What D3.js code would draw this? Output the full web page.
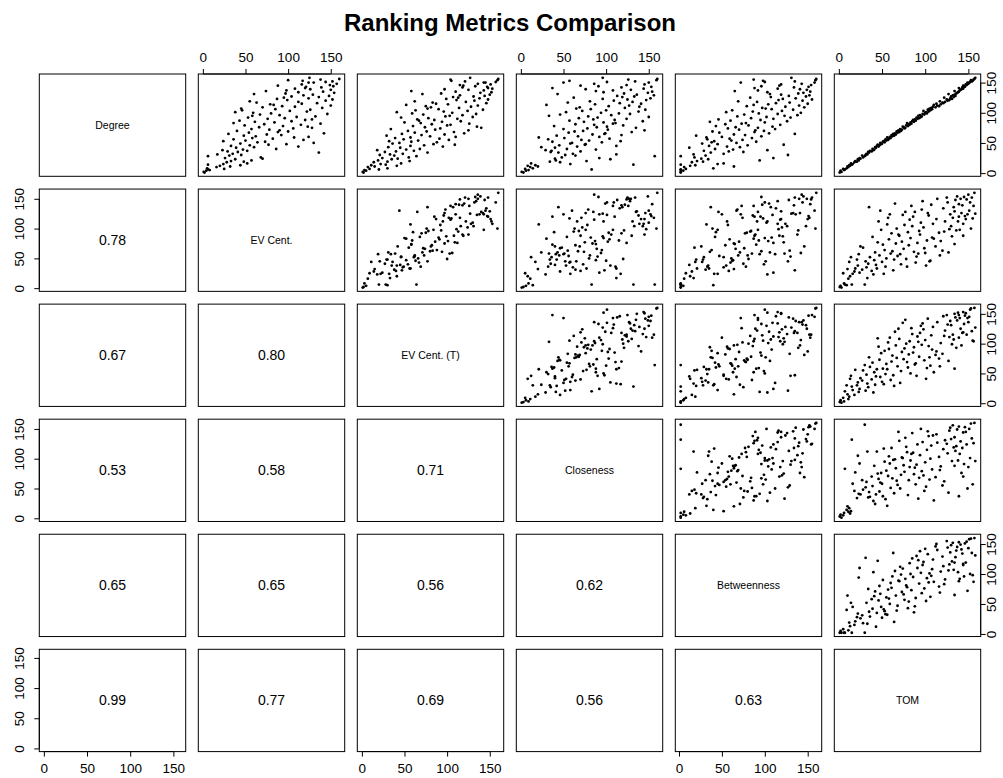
<!DOCTYPE html>
<html>
<head>
<meta charset="utf-8">
<script src="https://cdn.jsdelivr.net/npm/d3@7"></script>
<style>
  body { margin: 0; background: #fff; }
  svg { display: block; }
  text { font-family: "Liberation Sans", Arial, Helvetica, sans-serif; }
</style>
</head>
<body>
<svg id="chart" width="1003" height="778"></svg>
<script>
// Rank of each node under six centrality measures (one entry per node, same order in every array)
const degree = [
  1,2,4,5,6,7,8,10,11,12,
  13,14,15,16,18,19,20,21,23,24,
  25,26,28,29,30,31,32,34,35,36,
  37,38,39,40,42,43,44,45,46,48,
  49,50,51,52,54,55,56,57,58,60,
  61,62,63,64,66,67,68,69,70,72,
  73,74,75,76,78,79,80,81,82,84,
  85,86,87,88,90,91,92,93,94,96,
  97,98,99,100,102,103,104,105,106,108,
  109,110,111,112,114,115,116,117,118,120,
  121,122,123,124,126,127,128,129,130,132,
  133,134,135,137,138,139,140,142,143,144,
  146,147,148,150,151,152,154,155,156,158,
  141,150,153,145,136,131,125,119,113,107,
  101,95,89,83,77,71,65,59,53,47
];
const evCent = [
  2,1,4,8,6,25,5,16,32,20,
  44,6,24,52,28,48,33,57,38,70,
  26,68,6,31,45,17,35,136,41,29,
  52,23,47,86,39,60,112,33,55,98,
  44,130,64,73,50,118,36,82,58,124,
  62,48,92,75,142,54,88,100,40,78,
  57,106,128,66,94,49,115,72,138,84,
  61,104,43,120,76,96,53,110,132,90,
  67,146,80,59,122,102,46,126,85,140,
  70,108,93,150,79,116,134,63,112,144,
  99,152,87,124,136,104,148,118,129,97,
  154,112,141,98,150,126,108,139,121,153,
  149,116,157,130,144,152,100,138,160,125,
  120,124,117,88,74,60,95,55,83,45,
  38,58,128,36,123,90,30,107,24,77
];
const evCentT = [
  2,1,5,3,20,9,30,7,15,41,
  11,28,22,46,14,30,56,19,35,42,
  24,55,64,38,21,33,48,77,27,40,
  61,18,52,68,45,31,95,57,73,84,
  36,44,88,58,66,102,49,91,39,110,
  80,29,70,97,120,62,108,76,54,86,
  34,92,140,74,60,100,104,82,126,50,
  94,116,67,85,112,78,46,130,98,118,
  72,134,59,106,96,124,63,142,90,114,
  81,128,75,136,101,87,146,83,122,132,
  111,148,99,138,107,131,144,115,150,93,
  139,152,110,143,125,97,153,118,147,133,
  115,151,136,145,157,121,159,104,160,127,
  148,143,105,119,58,71,113,62,52,77,
  41,103,65,69,135,125,47,57,32,109
];
const closeness = [
  3,1,6,9,83,5,14,11,20,8,
  17,132,58,12,46,34,77,41,105,40,
  92,48,157,64,52,112,61,44,35,70,
  36,29,88,54,40,24,66,112,45,76,
  58,60,95,37,80,71,32,104,51,92,
  67,42,118,84,99,56,130,63,73,102,
  50,78,135,89,39,120,86,64,108,97,
  74,143,57,110,124,68,90,150,79,106,
  46,128,115,94,138,72,100,146,82,122,
  69,139,103,127,87,141,116,55,131,109,
  147,125,96,152,119,133,113,156,136,121,
  149,97,154,108,129,76,144,118,153,91,
  124,145,86,150,101,134,159,126,160,96,
  37,50,57,70,88,43,62,81,30,65,
  53,33,85,111,101,145,98,21,117,75
];
const betweenness = [
  2,2,5,2,2,8,40,6,64,13,
  19,2,45,52,15,28,21,94,34,26,
  110,18,2,31,127,17,52,37,75,58,
  29,103,63,42,12,71,56,35,80,45,
  27,67,38,90,61,74,33,59,85,50,
  96,20,77,64,105,47,88,39,99,70,
  112,57,92,66,43,81,118,54,73,100,
  36,126,60,95,110,84,130,102,68,138,
  76,115,93,142,86,120,62,133,108,97,
  146,124,79,140,104,150,113,129,91,144,
  116,155,121,136,107,148,128,152,119,139,
  145,103,153,92,149,141,115,134,151,96,
  154,119,143,158,100,135,159,87,160,131,
  88,72,98,117,65,106,83,69,87,101,
  55,123,46,78,109,89,135,32,41,122
];
const tom = [
  1,3,2,6,7,5,9,11,10,13,
  12,15,16,14,18,21,19,23,22,25,
  24,28,30,27,31,33,32,35,34,38,
  36,40,41,39,43,42,46,44,47,49,
  50,48,53,51,55,57,54,58,60,59,
  62,64,61,66,65,68,70,67,72,73,
  71,76,77,75,80,78,82,81,84,83,
  87,85,89,86,91,93,90,95,96,94,
  99,97,102,100,104,98,106,103,108,107,
  112,109,116,114,118,113,121,120,123,126,
  128,125,131,129,133,130,135,132,134,136,
  137,138,139,140,141,142,144,143,146,145,
  148,147,150,151,152,154,153,156,157,158,
  139,149,155,144,134,127,122,117,110,105,
  101,92,88,79,74,69,63,56,52,45
];

const metricNames = ["Degree", "EV Cent.", "EV Cent. (T)", "Closeness", "Betweenness", "TOM"];
// Correlation shown in the lower triangle, row by row (row i holds columns 0..i-1)
const correlations = [
  [0.78],
  [0.67, 0.80],
  [0.53, 0.58, 0.71],
  [0.65, 0.65, 0.56, 0.62],
  [0.99, 0.77, 0.69, 0.56, 0.63]
];
const tickValues = [0, 50, 100, 150];

const series = [degree, evCent, evCentT, closeness, betweenness, tom];
const nVars = series.length;
const nodeIndex = d3.range(degree.length);

// grid geometry
const gridLeft = 39.3, gridTop = 74;
const colStep = 159, rowStep = 115.06;
const panelW = 146.4, panelH = 102.3;

const svg = d3.select("#chart");

svg.append("text")
  .attr("x", 510).attr("y", 30.5)
  .attr("text-anchor", "middle")
  .attr("font-weight", "bold")
  .attr("font-size", 24)
  .text("Ranking Metrics Comparison");

// axis limits: data range widened by 4% on each side
const padded = v => {
  const [lo, hi] = d3.extent(v);
  const pad = (hi - lo) * 0.04;
  return [lo - pad, hi + pad];
};
const xScales = series.map((v, j) => d3.scaleLinear()
  .domain(padded(v))
  .range([gridLeft + j * colStep, gridLeft + j * colStep + panelW]));
const yScales = series.map((v, i) => d3.scaleLinear()
  .domain(padded(v))
  .range([gridTop + i * rowStep + panelH, gridTop + i * rowStep]));

const fmt = d3.format(".2f");

for (let i = 0; i < nVars; i++) {
  for (let j = 0; j < nVars; j++) {
    const x0 = gridLeft + j * colStep, y0 = gridTop + i * rowStep;
    const panel = svg.append("g");
    if (i === j) {
      panel.append("text")
        .attr("x", x0 + panelW / 2).attr("y", y0 + panelH / 2)
        .attr("dy", "0.35em")
        .attr("text-anchor", "middle")
        .attr("font-size", 10.5)
        .text(metricNames[i]);
    } else if (i > j) {
      panel.append("text")
        .attr("x", x0 + panelW / 2).attr("y", y0 + panelH / 2)
        .attr("dy", "0.35em")
        .attr("text-anchor", "middle")
        .attr("font-size", 14)
        .text(fmt(correlations[i - 1][j]));
    } else {
      const xs = xScales[j], ys = yScales[i];
      panel.selectAll("circle")
        .data(nodeIndex)
        .join("circle")
        .attr("cx", k => xs(series[j][k]))
        .attr("cy", k => ys(series[i][k]))
        .attr("r", 1.4)
        .attr("fill", "#000");
    }
    panel.append("rect")
      .attr("x", x0).attr("y", y0)
      .attr("width", panelW).attr("height", panelH)
      .attr("fill", "none")
      .attr("stroke", "#000")
      .attr("stroke-width", 1);
  }
}

// axes alternate around the outside of the grid
function finishAxis(g, scale, horizontal) {
  g.attr("font-size", 13.5)
   .attr("font-family", '"Liberation Sans", Arial, Helvetica, sans-serif');
  g.select(".domain").remove();
  g.selectAll(".tick line").attr("stroke", "#000");
  g.selectAll(".tick text").attr("fill", "#000");
  const a = scale(tickValues[0]), b = scale(tickValues[tickValues.length - 1]);
  g.append("line")
    .attr("x1", horizontal ? a : 0).attr("x2", horizontal ? b : 0)
    .attr("y1", horizontal ? 0 : a).attr("y2", horizontal ? 0 : b)
    .attr("stroke", "#000");
}

for (let j = 0; j < nVars; j++) {
  if (j % 2 === 1) {
    const g = svg.append("g").attr("transform", `translate(0,${gridTop})`)
      .call(d3.axisTop(xScales[j]).tickValues(tickValues).tickSize(5).tickPadding(7.5));
    finishAxis(g, xScales[j], true);
  } else {
    const yb = gridTop + (nVars - 1) * rowStep + panelH;
    const g = svg.append("g").attr("transform", `translate(0,${yb})`)
      .call(d3.axisBottom(xScales[j]).tickValues(tickValues).tickSize(5).tickPadding(7.3));
    finishAxis(g, xScales[j], true);
  }
}

for (let i = 0; i < nVars; i++) {
  if (i % 2 === 1) {
    const g = svg.append("g").attr("transform", `translate(${gridLeft},0)`)
      .call(d3.axisLeft(yScales[i]).tickValues(tickValues).tickSize(5));
    finishAxis(g, yScales[i], false);
    g.selectAll(".tick text")
      .attr("x", 0).attr("y", 0).attr("dy", 0)
      .attr("text-anchor", "middle")
      .attr("transform", "translate(-15,0) rotate(-90)");
  } else {
    const xr = gridLeft + (nVars - 1) * colStep + panelW;
    const g = svg.append("g").attr("transform", `translate(${xr},0)`)
      .call(d3.axisRight(yScales[i]).tickValues(tickValues).tickSize(5));
    finishAxis(g, yScales[i], false);
    g.selectAll(".tick text")
      .attr("x", 0).attr("y", 0).attr("dy", 0)
      .attr("text-anchor", "middle")
      .attr("transform", "translate(15.5,0) rotate(-90)");
  }
}
</script>
</body>
</html>
